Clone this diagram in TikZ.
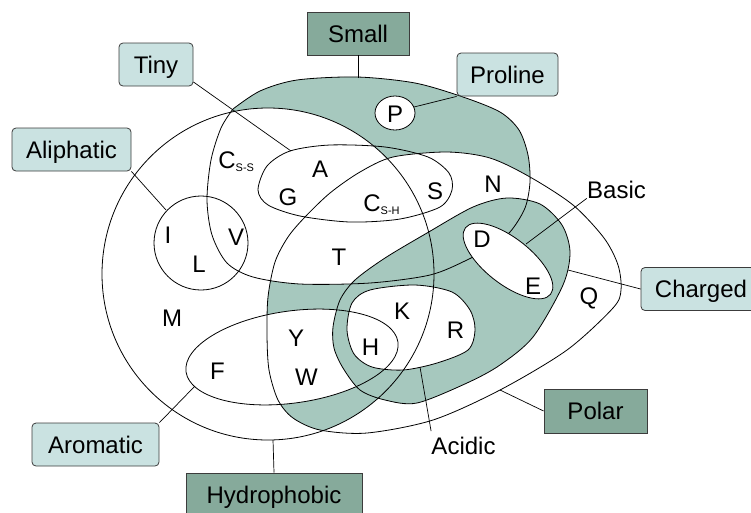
\documentclass[tikz,border=0pt]{standalone}
\usepackage{fontspec}
\setmainfont{Liberation Sans}
\definecolor{regiongreen}{HTML}{A6C8BE}
\definecolor{labelgreen}{HTML}{86AA9B}
\definecolor{lightblue}{HTML}{CAE2E1}
\definecolor{boxline}{HTML}{3C3C3C}
\begin{document}
\begin{tikzpicture}[x=1pt,y=-1pt,line width=0.8pt,
  every node/.style={font=\fontsize{24}{28}\selectfont},
  lightbox/.style={draw=boxline,fill=lightblue,rounded corners=4pt,minimum height=43pt,inner sep=0pt,text height=17pt,text depth=0pt},
  darkbox/.style={draw=boxline,fill=labelgreen,minimum height=43pt,inner sep=0pt,text height=17pt,text depth=0pt},
  letter/.style={inner sep=0pt,text height=17pt,text depth=0pt},
  conn/.style={line width=0.7pt}]
\useasboundingbox (0,0) rectangle (751,512);
% shape paths
\def\hydroP{(268,274) circle[radius=166]}
\def\smallP{plot[smooth] coordinates {(233,109) (260,91) (297,80) (357,77) (415,83) (463,97) (500,112) (519,130) (528,155) (530,182) (525,208) (510,232) (490,247) (467,260) (430,275) (370,283) (300,284) (253,277) (227,263) (212,235) (207,200) (211,160) (221,128) (233,109)} -- cycle}
\def\polarP{plot[smooth cycle] coordinates {(393,157) (447,152) (490,158) (530,177) (573,205) (604,238) (618,265) (621,290) (613,308) (567,350) (500,390) (433,420) (367,433) (320,430) (293,418) (278,400) (269,370) (267,335) (268,297) (275,262) (288,237) (305,217) (330,193) (360,172)}}
\def\chargedP{plot[smooth cycle] coordinates {(333,327) (340,300) (355,280) (385,258) (427,233) (473,207) (507,198) (540,204) (562,225) (570,252) (563,285) (533,337) (500,365) (467,383) (417,403) (385,400) (360,390) (343,368) (334,348)}}
\def\basicP{plot[smooth cycle] coordinates {(347,330) (352,303) (370,290) (415,285) (452,292) (470,310) (475,330) (468,350) (437,363) (403,370) (372,367) (354,354)}}
\def\tinyP{plot[smooth cycle] coordinates {(258,190) (267,166) (290,151) (330,145) (385,147) (428,157) (449,173) (452,190) (440,207) (400,219) (350,222) (300,216) (268,205)}}
\def\aliP{(201,243) circle[radius=47]}
\def\aroP{(292,357) circle[x radius=107,y radius=46,rotate=8]}
\def\acidP{(508,261) circle[x radius=54,y radius=23,rotate=-38]}
\def\proP{(395,113) circle[x radius=20,y radius=17]}
% fills
\fill[regiongreen] \smallP;
\fill[white] \hydroP;
\fill[white] \polarP;
\begin{scope}
  \clip \polarP;
  \fill[regiongreen] \hydroP;
  \fill[white] \smallP;
\end{scope}
\fill[white] \aroP;
\fill[regiongreen] \chargedP;
\fill[white] \basicP;
% outlines
\draw \hydroP;
\draw \polarP;
\draw \smallP;
\draw \tinyP;
\draw \aliP;
\draw \aroP;
\draw \chargedP;
\draw \basicP;
\filldraw[fill=white] \acidP;
\filldraw[fill=white] \proP;
% letters
\node[letter] (lP) at (395,114) {P};
\node[letter,anchor=west] (lCss) at (218,160) {C\raisebox{-3pt}{\fontsize{11}{11}\selectfont S-S}};
\node[letter,anchor=west] (lCsh) at (363,202.5) {C\raisebox{-3pt}{\fontsize{11}{11}\selectfont S-H}};
\node[letter] (lA) at (320,168.5) {A};
\node[letter] (lG) at (288,196.5) {G};
\node[letter] (lS) at (435,190.5) {S};
\node[letter] (lN) at (493,184) {N};
\node[letter] (lI) at (168,235) {I};
\node[letter] (lL) at (199,264) {L};
\node[letter] (lV) at (236,237) {V};
\node[letter] (lT) at (339,257) {T};
\node[letter] (lD) at (482,238.5) {D};
\node[letter] (lE) at (533,286) {E};
\node[letter] (lQ) at (589,296) {Q};
\node[letter] (lM) at (172,318) {M};
\node[letter] (lK) at (402,310.5) {K};
\node[letter] (lR) at (455.5,329.5) {R};
\node[letter] (lY) at (296,337.5) {Y};
\node[letter] (lH) at (370.5,346.5) {H};
\node[letter] (lF) at (217.5,370.5) {F};
\node[letter] (lW) at (306.5,376.5) {W};
% labels
\node[darkbox,minimum width=102pt] (small) at (358,33.5) {Small};
\node[lightbox,minimum width=101pt] (proline) at (507.5,74.5) {Proline};
\node[lightbox,minimum width=74pt] (tiny) at (156,64.5) {Tiny};
\node[lightbox,minimum width=119pt] (aliphatic) at (71.5,149.5) {Aliphatic};
\node[lightbox,minimum width=120pt] (charged) at (701,289) {Charged};
\node[darkbox,minimum width=103pt,minimum height=44pt] (polar) at (595.5,411) {Polar};
\node[lightbox,minimum width=127pt] (aromatic) at (95.5,444.5) {Aromatic};
\node[darkbox,minimum width=176pt] (hydrophobic) at (274,494.5) {Hydrophobic};
\node[letter] (basic) at (616.5,189.5) {Basic};
\node[inner xsep=0pt,inner ysep=6pt,text height=17pt,text depth=0pt] (acidic) at (463.5,446) {Acidic};
% connector end points on the shapes
\coordinate (smallTop) at (358,77.5);
\coordinate (pE) at (414,107);
\coordinate (tinyE) at (291,151);
\coordinate (aliE) at (166,210);
\coordinate (aroE) at (195,386);
\coordinate (hydE) at (273,440);
\coordinate (charE) at (568,270);
\coordinate (polE) at (500,390);
\coordinate (basE) at (526,244);
\coordinate (acE) at (420,367);
% connectors
\draw[conn] (small.south) -- (smallTop);
\draw[conn] (proline.south west) -- (pE);
\draw[conn] (tiny.-25) -- (tinyE);
\draw[conn] (aliphatic.south east) -- (aliE);
\draw[conn] (aromatic.north east) -- (aroE);
\draw[conn] (hydrophobic.north) -- (hydE);
\draw[conn] (charged.west) -- (charE);
\draw[conn] (polar.west) -- (polE);
\draw[conn] (basic.south west) -- (basE);
\draw[conn] (acidic.north west) -- (acE);
\end{tikzpicture}
\end{document}
